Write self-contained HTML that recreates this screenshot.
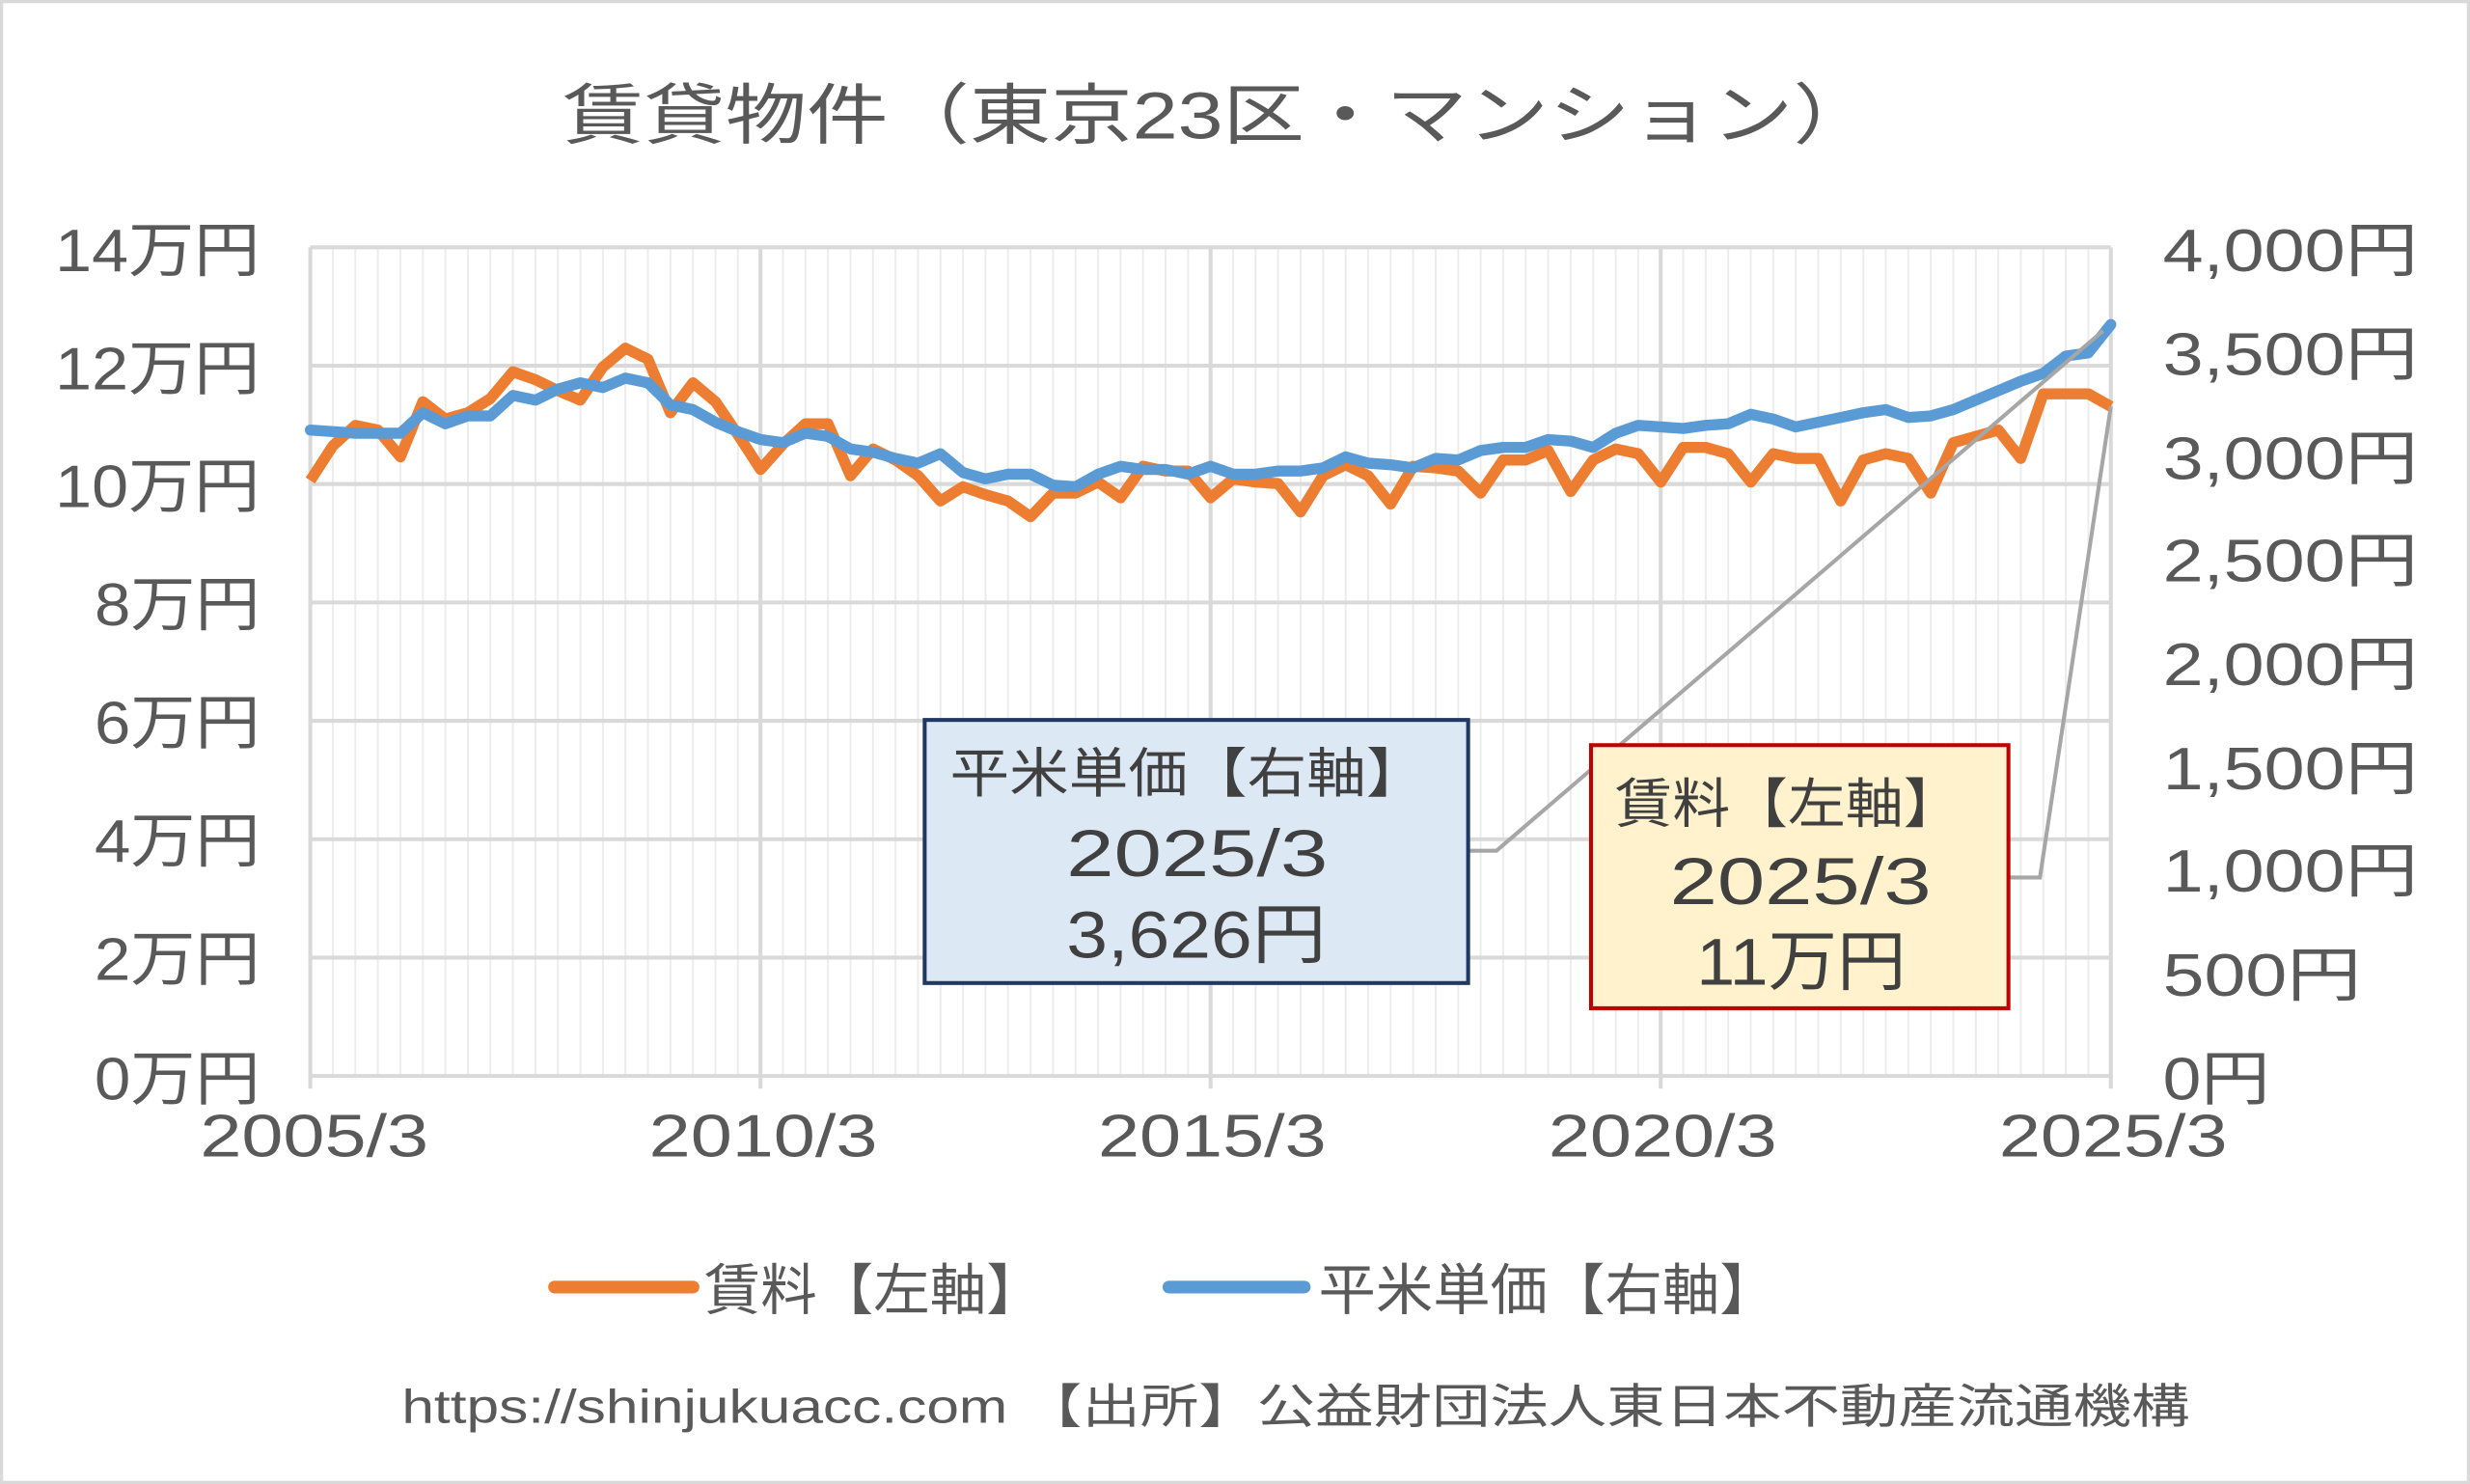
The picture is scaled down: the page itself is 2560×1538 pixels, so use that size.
<!DOCTYPE html>
<html><head><meta charset="utf-8"><style>
html,body{margin:0;padding:0;background:#fff}
svg{display:block}
text{font-family:"Liberation Sans","Noto Sans CJK JP",sans-serif;fill:#595959}
.d{fill:#404040}
</style></head><body>
<svg id="s" width="2560" height="1538" viewBox="0 0 1568 942" preserveAspectRatio="none" xmlns="http://www.w3.org/2000/svg">
<rect x="1" y="1" width="1566" height="940" fill="#fff" stroke="#d9d9d9" stroke-width="2"/>
<g id="grid"></g>
<text x="357" y="88" font-size="42" textLength="833" lengthAdjust="spacingAndGlyphs">賃貸物件（東京23区・マンション）</text>
<g font-size="38" text-anchor="end">
<text x="165" y="172" textLength="130" lengthAdjust="spacingAndGlyphs">14万円</text>
<text x="165" y="247" textLength="130" lengthAdjust="spacingAndGlyphs">12万円</text>
<text x="165" y="322" textLength="130" lengthAdjust="spacingAndGlyphs">10万円</text>
<text x="165" y="397" textLength="105" lengthAdjust="spacingAndGlyphs">8万円</text>
<text x="165" y="472" textLength="105" lengthAdjust="spacingAndGlyphs">6万円</text>
<text x="165" y="547" textLength="105" lengthAdjust="spacingAndGlyphs">4万円</text>
<text x="165" y="622" textLength="105" lengthAdjust="spacingAndGlyphs">2万円</text>
<text x="165" y="698" textLength="105" lengthAdjust="spacingAndGlyphs">0万円</text>
</g>
<g font-size="38">
<text x="1373" y="172" textLength="162" lengthAdjust="spacingAndGlyphs">4,000円</text>
<text x="1373" y="238" textLength="162" lengthAdjust="spacingAndGlyphs">3,500円</text>
<text x="1373" y="304" textLength="162" lengthAdjust="spacingAndGlyphs">3,000円</text>
<text x="1373" y="369" textLength="162" lengthAdjust="spacingAndGlyphs">2,500円</text>
<text x="1373" y="435" textLength="162" lengthAdjust="spacingAndGlyphs">2,000円</text>
<text x="1373" y="501" textLength="162" lengthAdjust="spacingAndGlyphs">1,500円</text>
<text x="1373" y="566" textLength="162" lengthAdjust="spacingAndGlyphs">1,000円</text>
<text x="1373" y="632" textLength="126" lengthAdjust="spacingAndGlyphs">500円</text>
<text x="1373" y="698" textLength="68" lengthAdjust="spacingAndGlyphs">0円</text>
</g>
<g font-size="38">
<text x="127" y="734" textLength="145" lengthAdjust="spacingAndGlyphs">2005/3</text>
<text x="412" y="734" textLength="145" lengthAdjust="spacingAndGlyphs">2010/3</text>
<text x="697" y="734" textLength="145" lengthAdjust="spacingAndGlyphs">2015/3</text>
<text x="983" y="734" textLength="145" lengthAdjust="spacingAndGlyphs">2020/3</text>
<text x="1269" y="734" textLength="145" lengthAdjust="spacingAndGlyphs">2025/3</text>
</g>
<polyline id="o" fill="none" stroke="#ed7d31" stroke-width="7" stroke-linejoin="round"/>
<polyline id="b" fill="none" stroke="#5b9bd5" stroke-width="7" stroke-linejoin="round" stroke-linecap="round"/>
<polyline points="932,540 950,540 1335,210" fill="none" stroke="#a6a6a6" stroke-width="2.5"/>
<polyline points="1275,557 1295,557 1340,258" fill="none" stroke="#a6a6a6" stroke-width="2.5"/>
<rect x="587" y="457" width="345" height="167" fill="#dde8f5" stroke="#1f3864" stroke-width="2.5"/>
<text class="d" x="603" y="503" font-size="34" textLength="302" lengthAdjust="spacingAndGlyphs">平米単価【右軸】</text>
<text class="d" x="677" y="556" font-size="42" textLength="166" lengthAdjust="spacingAndGlyphs">2025/3</text>
<text class="d" x="677" y="608" font-size="42" textLength="165" lengthAdjust="spacingAndGlyphs">3,626円</text>
<rect x="1010" y="473" width="265" height="167" fill="#fff2cc" stroke="#c00000" stroke-width="2.5"/>
<text class="d" x="1025" y="522" font-size="34" textLength="220" lengthAdjust="spacingAndGlyphs">賃料【左軸】</text>
<text class="d" x="1060" y="574" font-size="42" textLength="166" lengthAdjust="spacingAndGlyphs">2025/3</text>
<text class="d" x="1077" y="625" font-size="42" textLength="133" lengthAdjust="spacingAndGlyphs">11万円</text>
<line x1="352" y1="817" x2="440" y2="817" stroke="#ed7d31" stroke-width="8" stroke-linecap="round"/>
<text x="447" y="831" font-size="35" textLength="215" lengthAdjust="spacingAndGlyphs">賃料【左軸】</text>
<line x1="742" y1="817" x2="828" y2="817" stroke="#5b9bd5" stroke-width="8" stroke-linecap="round"/>
<text x="837" y="831" font-size="35" textLength="291" lengthAdjust="spacingAndGlyphs">平米単価【右軸】</text>
<text x="255" y="903" font-size="30" textLength="1135" lengthAdjust="spacingAndGlyphs">https://shinjukuacc.com 【出所】公益財団法人東日本不動産流通機構</text>
</svg>
<script>
var L=197,R=1340,T=157,B=683,g=document.getElementById('grid'),h='';
var dx=(R-L)/80;
for(var i=0;i<=80;i++){var x=L+i*dx;if(i%20)h+='<line x1="'+x+'" y1="'+T+'" x2="'+x+'" y2="'+B+'" stroke="#ececec" stroke-width="1.2"/>';}
for(var j=0;j<=7;j++){var y=T+j*(B-T)/7;h+='<line x1="'+L+'" y1="'+y+'" x2="'+R+'" y2="'+y+'" stroke="#d9d9d9" stroke-width="2.5"/>';}
for(var i=0;i<=80;i+=20){var x=L+i*dx;h+='<line x1="'+x+'" y1="'+T+'" x2="'+x+'" y2="'+(B+8)+'" stroke="#d9d9d9" stroke-width="2.5"/>';}
g.innerHTML=h;
var o=[305,283,270,273,290,255,266,262,253,236,241,248,254,233,221,228,262,243,255,276,298,282,269,269,302,285,292,302,318,309,314,318,328,313,313,306,316,296,299,299,316,304,306,307,325,302,295,302,320,296,297,299,313,292,292,286,312,292,285,288,306,284,284,288,306,288,291,291,318,292,288,291,313,281,277,273,291,250,250,250,258];
var b=[273,274,275,275,275,262,269,264,264,251,254,247,243,246,240,243,257,260,268,274,279,281,275,277,285,287,291,294,288,300,304,301,301,308,309,301,296,298,298,301,296,301,301,299,299,297,290,294,295,297,291,292,286,284,284,279,280,284,275,270,271,272,270,269,263,266,271,268,265,262,260,265,264,260,254,248,242,237,226,224,206];
function pts(a){return a.map(function(y,i){return (L+i*dx).toFixed(1)+','+y}).join(' ');}
document.getElementById('o').setAttribute('points',pts(o));
document.getElementById('b').setAttribute('points',pts(b));
</script>
</body></html>
